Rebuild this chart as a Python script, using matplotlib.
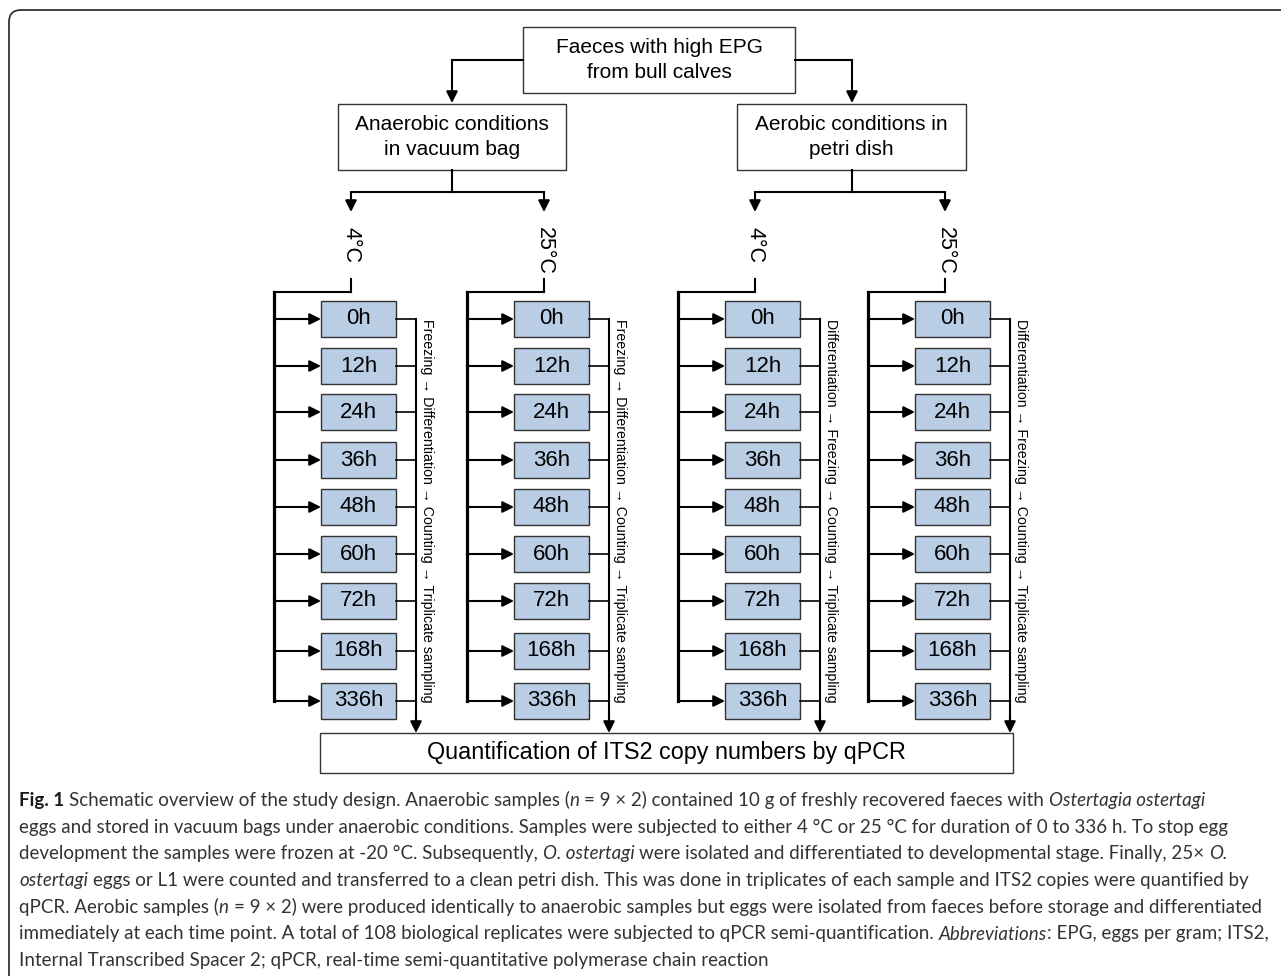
import matplotlib
matplotlib.use("Agg")
import matplotlib.pyplot as plt
from matplotlib.patches import Rectangle, FancyBboxPatch

# Chart content
top_label = "Faeces with high EPG\nfrom bull calves"
condition_labels = ["Anaerobic conditions\nin vacuum bag", "Aerobic conditions in\npetri dish"]
temperatures = ["4°C", "25°C", "4°C", "25°C"]
time_points = ["0h", "12h", "24h", "36h", "48h", "60h", "72h", "168h", "336h"]
side_labels = [
    "Freezing → Differentiation → Counting → Triplicate sampling",
    "Freezing → Differentiation → Counting → Triplicate sampling",
    "Differentiation → Freezing → Counting → Triplicate sampling",
    "Differentiation → Freezing → Counting → Triplicate sampling",
]
bottom_label = "Quantification of ITS2 copy numbers by qPCR"

# caption lines: (text, style) segments, style r / b / i
caption = [
    [("Fig. 1", "b"), (" Schematic overview of the study design. Anaerobic samples (", "r"), ("n", "i"),
     (" = 9 × 2) contained 10 g of freshly recovered faeces with ", "r"), ("Ostertagia ostertagi", "i")],
    [("eggs and stored in vacuum bags under anaerobic conditions. Samples were subjected to either 4 °C or 25 °C for duration of 0 to 336 h. To stop egg", "r")],
    [("development the samples were frozen at -20 °C. Subsequently, ", "r"), ("O. ostertagi", "i"),
     (" were isolated and differentiated to developmental stage. Finally, 25× ", "r"), ("O.", "i")],
    [("ostertagi", "i"), (" eggs or L1 were counted and transferred to a clean petri dish. This was done in triplicates of each sample and ITS2 copies were quantified by", "r")],
    [("qPCR. Aerobic samples (", "r"), ("n", "i"), (" = 9 × 2) were produced identically to anaerobic samples but eggs were isolated from faeces before storage and differentiated", "r")],
    [("immediately at each time point. A total of 108 biological replicates were subjected to qPCR semi-quantification. ", "r"),
     ("Abbreviations", "i"), (": EPG, eggs per gram; ITS2,", "r")],
    [("Internal Transcribed Spacer 2; qPCR, real-time semi-quantitative polymerase chain reaction", "r")],
]

# Layout (pixels)
W, H = 1281, 976
FONT = ["Liberation Sans", "DejaVu Sans"]
CAP_FONT = ["Lato", "DejaVu Sans"]
temp_x = [351, 544, 755, 945]
row_y = [319, 366, 412, 460, 507, 554, 601, 651, 701]
box_w, box_h = 75, 36

fig = plt.figure(figsize=(W / 100, H / 100), dpi=100)
ax = fig.add_axes([0, 0, 1, 1])
ax.set_xlim(0, W)
ax.set_ylim(H, 0)
ax.axis("off")


def line(xs, ys, lw=1.5):
    ax.plot(xs, ys, color="black", lw=lw, solid_capstyle="projecting", solid_joinstyle="miter")


def arrow(x0, y0, x1, y1, lw=1.5):
    ax.annotate("", xy=(x1, y1), xytext=(x0, y0),
                arrowprops=dict(arrowstyle="-|>", mutation_scale=17, lw=lw, color="black",
                                shrinkA=0, shrinkB=0))


def box(x0, y0, x1, y1, text, fc="white", size=15):
    ax.add_patch(Rectangle((x0, y0), x1 - x0, y1 - y0, fc=fc, ec="#333333", lw=1.0))
    ax.text((x0 + x1) / 2, (y0 + y1) / 2, text, ha="center", va="center", fontsize=size,
            family=FONT, linespacing=1.4)


# outer frame (open at right and bottom)
ax.add_patch(FancyBboxPatch((9, 10), W + 40, H + 40, boxstyle="round,pad=0,rounding_size=12",
                            fc="none", ec="#333333", lw=1.3, clip_on=True))

# top part
box(523, 27, 795, 93, top_label)
line([523, 452], [60, 60])
arrow(452, 60, 452, 103)
line([795, 852], [60, 60])
arrow(852, 60, 852, 103)

cond_boxes = [(338, 104, 566, 170), (737, 104, 966, 170)]
for c, (x0, y0, x1, y1) in enumerate(cond_boxes):
    box(x0, y0, x1, y1, condition_labels[c])
    cx = (x0 + x1) / 2
    ta, tb = temp_x[2 * c], temp_x[2 * c + 1]
    line([cx, cx], [y1, 192])
    line([ta, tb], [192, 192])
    arrow(ta, 192, ta, 212)
    arrow(tb, 192, tb, 212)

# columns
for k, tx in enumerate(temp_x):
    ax.text(tx, 227, temperatures[k], rotation=270, rotation_mode="anchor", ha="left", va="center",
            fontsize=15.5, family=FONT)
    thick = tx - 77
    bx = thick + 47
    rx = bx + box_w + 20
    line([tx, tx], [279, 292])
    line([tx, thick], [292, 292])
    line([thick, thick], [292, row_y[-1]], lw=2.3)
    for j, ry in enumerate(row_y):
        arrow(thick, ry, bx, ry)
        box(bx, ry - box_h / 2, bx + box_w, ry + box_h / 2, time_points[j], fc="#b9cde5", size=16)
        line([bx + box_w, rx], [ry, ry], lw=1.2)
    line([rx, rx], [row_y[0], 722], lw=1.5)
    arrow(rx, 715, rx, 733)
    ax.text(rx + 11, row_y[0], side_labels[k], rotation=270, rotation_mode="anchor", ha="left",
            va="center", fontsize=10.2, family=FONT)

box(320, 733, 1013, 773, bottom_label, size=16.8)

# caption with mixed styles
renderer = fig.canvas.get_renderer()
styles = {"r": dict(weight="normal", style="normal"),
          "b": dict(weight="bold", style="normal"),
          "i": dict(weight="normal", style="italic")}


def text_width(s, st, size):
    t = ax.text(0, 0, s, fontsize=size, family=CAP_FONT, **styles[st])
    w = t.get_window_extent(renderer).width
    t.remove()
    return w


def line_width(segs, size):
    total = 0
    for s, st in segs:
        sp = text_width("x x", st, size) - text_width("xx", st, size)
        if s.startswith(" "):
            total += sp
        total += text_width(s.strip(), st, size)
        if s.endswith(" "):
            total += sp
    return total


cap_size = 12.0
cap_size *= (1262 - 19) / line_width(caption[4], cap_size)

for i, segs in enumerate(caption):
    x = 19
    y = 806 + i * 26.7
    for s, st in segs:
        sp = text_width("x x", st, cap_size) - text_width("xx", st, cap_size)
        if s.startswith(" "):
            x += sp
        core = s.strip()
        color = "#1a1a1a" if st == "b" else "#333333"
        ax.text(x, y, core, fontsize=cap_size, family=CAP_FONT, color=color, va="baseline",
                ha="left", **styles[st])
        x += text_width(core, st, cap_size)
        if s.endswith(" "):
            x += sp

fig.savefig("out.png", dpi=100)
